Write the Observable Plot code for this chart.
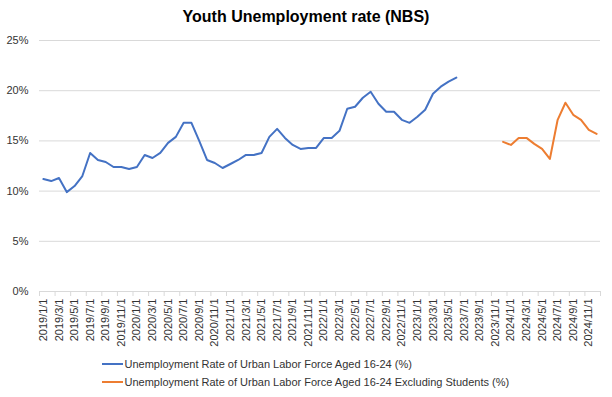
<!DOCTYPE html>
<html>
<head>
<meta charset="utf-8">
<script src="https://cdn.jsdelivr.net/npm/d3@7"></script>
<script src="https://cdn.jsdelivr.net/npm/@observablehq/plot@0.6"></script>
<style>
  html, body { margin: 0; padding: 0; background: #fff; }
  body { width: 612px; height: 397px; overflow: hidden; font-family: "Liberation Sans", Arial, Helvetica, sans-serif; }
  #title { height: 30px; box-sizing: border-box; padding-top: 8px; line-height: 18px; font-size: 16px; font-weight: bold; text-align: center; color: #000; }
  #chart svg { display: block; }
  #legend { padding-left: 102px; font-size: 11px; color: #333; }
  .row { height: 18px; line-height: 18px; display: flex; align-items: center; }
  .row svg { display: block; margin-right: 1.5px; }
</style>
</head>
<body>
<div id="title">Youth Unemployment rate (NBS)</div>
<div id="chart"></div>
<div id="legend"></div>
<script>
const months = [
  "2019/1/1","2019/2/1","2019/3/1","2019/4/1","2019/5/1","2019/6/1","2019/7/1","2019/8/1","2019/9/1","2019/10/1","2019/11/1","2019/12/1",
  "2020/1/1","2020/2/1","2020/3/1","2020/4/1","2020/5/1","2020/6/1","2020/7/1","2020/8/1","2020/9/1","2020/10/1","2020/11/1","2020/12/1",
  "2021/1/1","2021/2/1","2021/3/1","2021/4/1","2021/5/1","2021/6/1","2021/7/1","2021/8/1","2021/9/1","2021/10/1","2021/11/1","2021/12/1",
  "2022/1/1","2022/2/1","2022/3/1","2022/4/1","2022/5/1","2022/6/1","2022/7/1","2022/8/1","2022/9/1","2022/10/1","2022/11/1","2022/12/1",
  "2023/1/1","2023/2/1","2023/3/1","2023/4/1","2023/5/1","2023/6/1","2023/7/1","2023/8/1","2023/9/1","2023/10/1","2023/11/1","2023/12/1",
  "2024/1/1","2024/2/1","2024/3/1","2024/4/1","2024/5/1","2024/6/1","2024/7/1","2024/8/1","2024/9/1","2024/10/1","2024/11/1","2024/12/1"
];

// Unemployment Rate of Urban Labor Force Aged 16-24 (%), 2019/1 - 2023/6
const youthRate = [
  11.2, 11.0, 11.3, 9.9, 10.5, 11.5, 13.8, 13.1, 12.9, 12.4, 12.4, 12.2,
  12.4, 13.6, 13.3, 13.8, 14.8, 15.4, 16.8, 16.8, 15.0, 13.1, 12.8, 12.3,
  12.7, 13.1, 13.6, 13.6, 13.8, 15.4, 16.2, 15.3, 14.6, 14.2, 14.3, 14.3,
  15.3, 15.3, 16.0, 18.2, 18.4, 19.3, 19.9, 18.7, 17.9, 17.9, 17.1, 16.8,
  17.4, 18.1, 19.7, 20.4, 20.9, 21.3
];
const youthRateStart = "2019/1/1";

// Unemployment Rate of Urban Labor Force Aged 16-24 Excluding Students (%), 2023/12 - 2024/12
const youthExStudents = [
  14.9, 14.6, 15.3, 15.3, 14.7, 14.2, 13.2, 17.1, 18.8, 17.6, 17.1, 16.1, 15.7
];
const youthExStudentsStart = "2023/12/1";

const yTicks = [0, 5, 10, 15, 20, 25];

const seriesNames = [
  "Unemployment Rate of Urban Labor Force Aged 16-24 (%)",
  "Unemployment Rate of Urban Labor Force Aged 16-24 Excluding Students (%)"
];
const seriesColors = ["#4472C4", "#ED7D31"];

function toRows(values, start, series) {
  const s = months.indexOf(start);
  return values.map((v, k) => ({ i: s + k, month: months[s + k], value: v, series }));
}
const blueRows = toRows(youthRate, youthRateStart, seriesNames[0]);
const orangeRows = toRows(youthExStudents, youthExStudentsStart, seriesNames[1]);

const labelIdx = months.map((m, i) => i).filter(i => i % 2 === 0);
const boundaryIdx = d3.range(0, months.length + 1, 2).map(i => i - 0.5);

const fontFamily = '"Liberation Sans", Arial, Helvetica, sans-serif';

const chart = Plot.plot({
  width: 612,
  height: 325,
  marginTop: 10,
  marginBottom: 64,
  marginLeft: 39,
  marginRight: 12,
  style: { fontFamily, fontSize: "11px", color: "#333", background: "#fff" },
  x: { type: "linear", domain: [-0.5, months.length - 0.5] },
  y: { domain: [0, 25] },
  marks: [
    Plot.gridY(yTicks, { stroke: "#d9d9d9", strokeOpacity: 1, strokeWidth: 1 }),
    Plot.axisY({ ticks: yTicks, tickFormat: d => d + "%", tickSize: 0, tickPadding: 11, label: null, fontSize: 11, fill: "#333" }),
    Plot.axisX({ ticks: boundaryIdx, tickFormat: () => "", tickSize: 5, stroke: "#d9d9d9", strokeOpacity: 1, label: null }),
    Plot.axisX({ ticks: labelIdx, tickFormat: i => months[i], tickRotate: -90, tickSize: 0, tickPadding: 7, label: null, fontSize: 11, fill: "#333" }),
    Plot.line(blueRows, { x: "i", y: "value", stroke: seriesColors[0], strokeWidth: 2, strokeLinejoin: "round" }),
    Plot.line(orangeRows, { x: "i", y: "value", stroke: seriesColors[1], strokeWidth: 2, strokeLinejoin: "round" })
  ]
});
document.getElementById("chart").appendChild(chart);

const legend = document.getElementById("legend");
seriesNames.forEach((name, k) => {
  const row = document.createElement("div");
  row.className = "row";
  row.innerHTML = `<svg width="21" height="4"><line x1="0" y1="2" x2="21" y2="2" stroke="${seriesColors[k]}" stroke-width="2"/></svg><span>${name}</span>`;
  legend.appendChild(row);
});
</script>
</body>
</html>
